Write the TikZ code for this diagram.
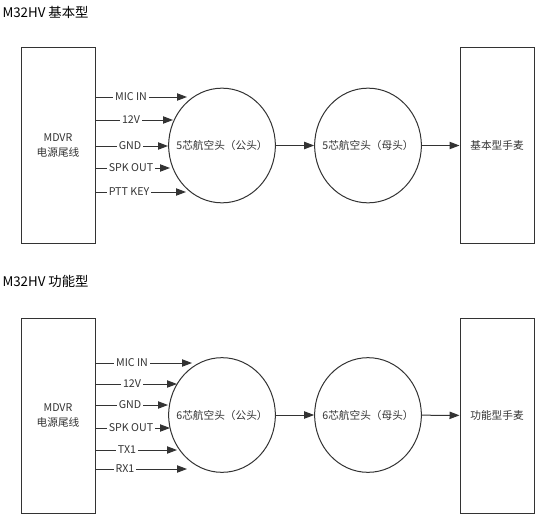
\documentclass[tikz,border=0pt]{standalone}
\usepackage{fontspec}
\setmainfont{Noto Sans CJK SC}
\usetikzlibrary{arrows.meta, shapes.geometric}
\definecolor{ink}{HTML}{333333}

\begin{document}
\begin{tikzpicture}[x=0.75pt,y=-0.75pt,->,>={Triangle[length=7.5pt,width=5.5pt]},
		line width=0.75pt, color=ink, font=\fontsize{8}{11}\selectfont]
		\tikzstyle{BoxStyle}=[draw,rectangle,minimum width=55.5pt,minimum height=146.25pt,align=center]
		\tikzstyle{PlugStyle}=[draw,ellipse,minimum width=80pt,minimum height=86pt,inner sep=0pt]
		\tikzstyle{PinStyle}=[fill=white,inner sep=1.5pt]
		\tikzstyle{TitleStyle}=[anchor=west,inner sep=0pt,text=black,font=\fontsize{10}{12}\selectfont]

		\useasboundingbox (0,0) rectangle (545,517);

		% basic type
		\node[TitleStyle] (titleTop) at (2,12) {M32HV 基本型};
		\node[BoxStyle] (mdvrTop) at (58,145.5) {MDVR\\电源尾线};
		\node[PlugStyle,label=center:{5芯航空头（公头）}] (maleTop) at (222,145.5) {};
		\node[PlugStyle,label=center:{5芯航空头（母头）}] (femaleTop) at (368,145.5) {};
		\node[BoxStyle] (micTop) at (497,145.5) {基本型手麦};

		\foreach \y/\x/\lx/\pin [count=\i] in {97/187/131/MIC IN,120/173/131/12V,146/168/130/GND,168/170/131/SPK OUT,192/186/129/PTT KEY}{
			\coordinate (pinTop\i) at (\x,\y);
			\draw (mdvrTop.east |- pinTop\i) -- (pinTop\i);
			\node[PinStyle] (pinLabelTop\i) at (\lx,\y) {\pin};
		}
		\draw (maleTop) -- (femaleTop);
		\draw (femaleTop) -- (micTop);

		% function type
		\node[TitleStyle] (titleBot) at (2,281) {M32HV 功能型};
		\node[BoxStyle] (mdvrBot) at (58,415.5) {MDVR\\电源尾线};
		\node[PlugStyle,label=center:{6芯航空头（公头）}] (maleBot) at (222,415) {};
		\node[PlugStyle,label=center:{6芯航空头（母头）}] (femaleBot) at (368,415) {};
		\node[BoxStyle] (micBot) at (497,415.5) {功能型手麦};

		\foreach \y/\x/\lx/\pin [count=\i] in {363/192/132/MIC IN,384/177/132/12V,405/168/130/GND,428/170/131/SPK OUT,450/177/127/TX1,469/187/125/RX1}{
			\coordinate (pinBot\i) at (\x,\y);
			\draw (mdvrBot.east |- pinBot\i) -- (pinBot\i);
			\node[PinStyle] (pinLabelBot\i) at (\lx,\y) {\pin};
		}
		\draw (maleBot) -- (femaleBot);
		\draw (femaleBot) -- (micBot);
	\end{tikzpicture}
\end{document}
